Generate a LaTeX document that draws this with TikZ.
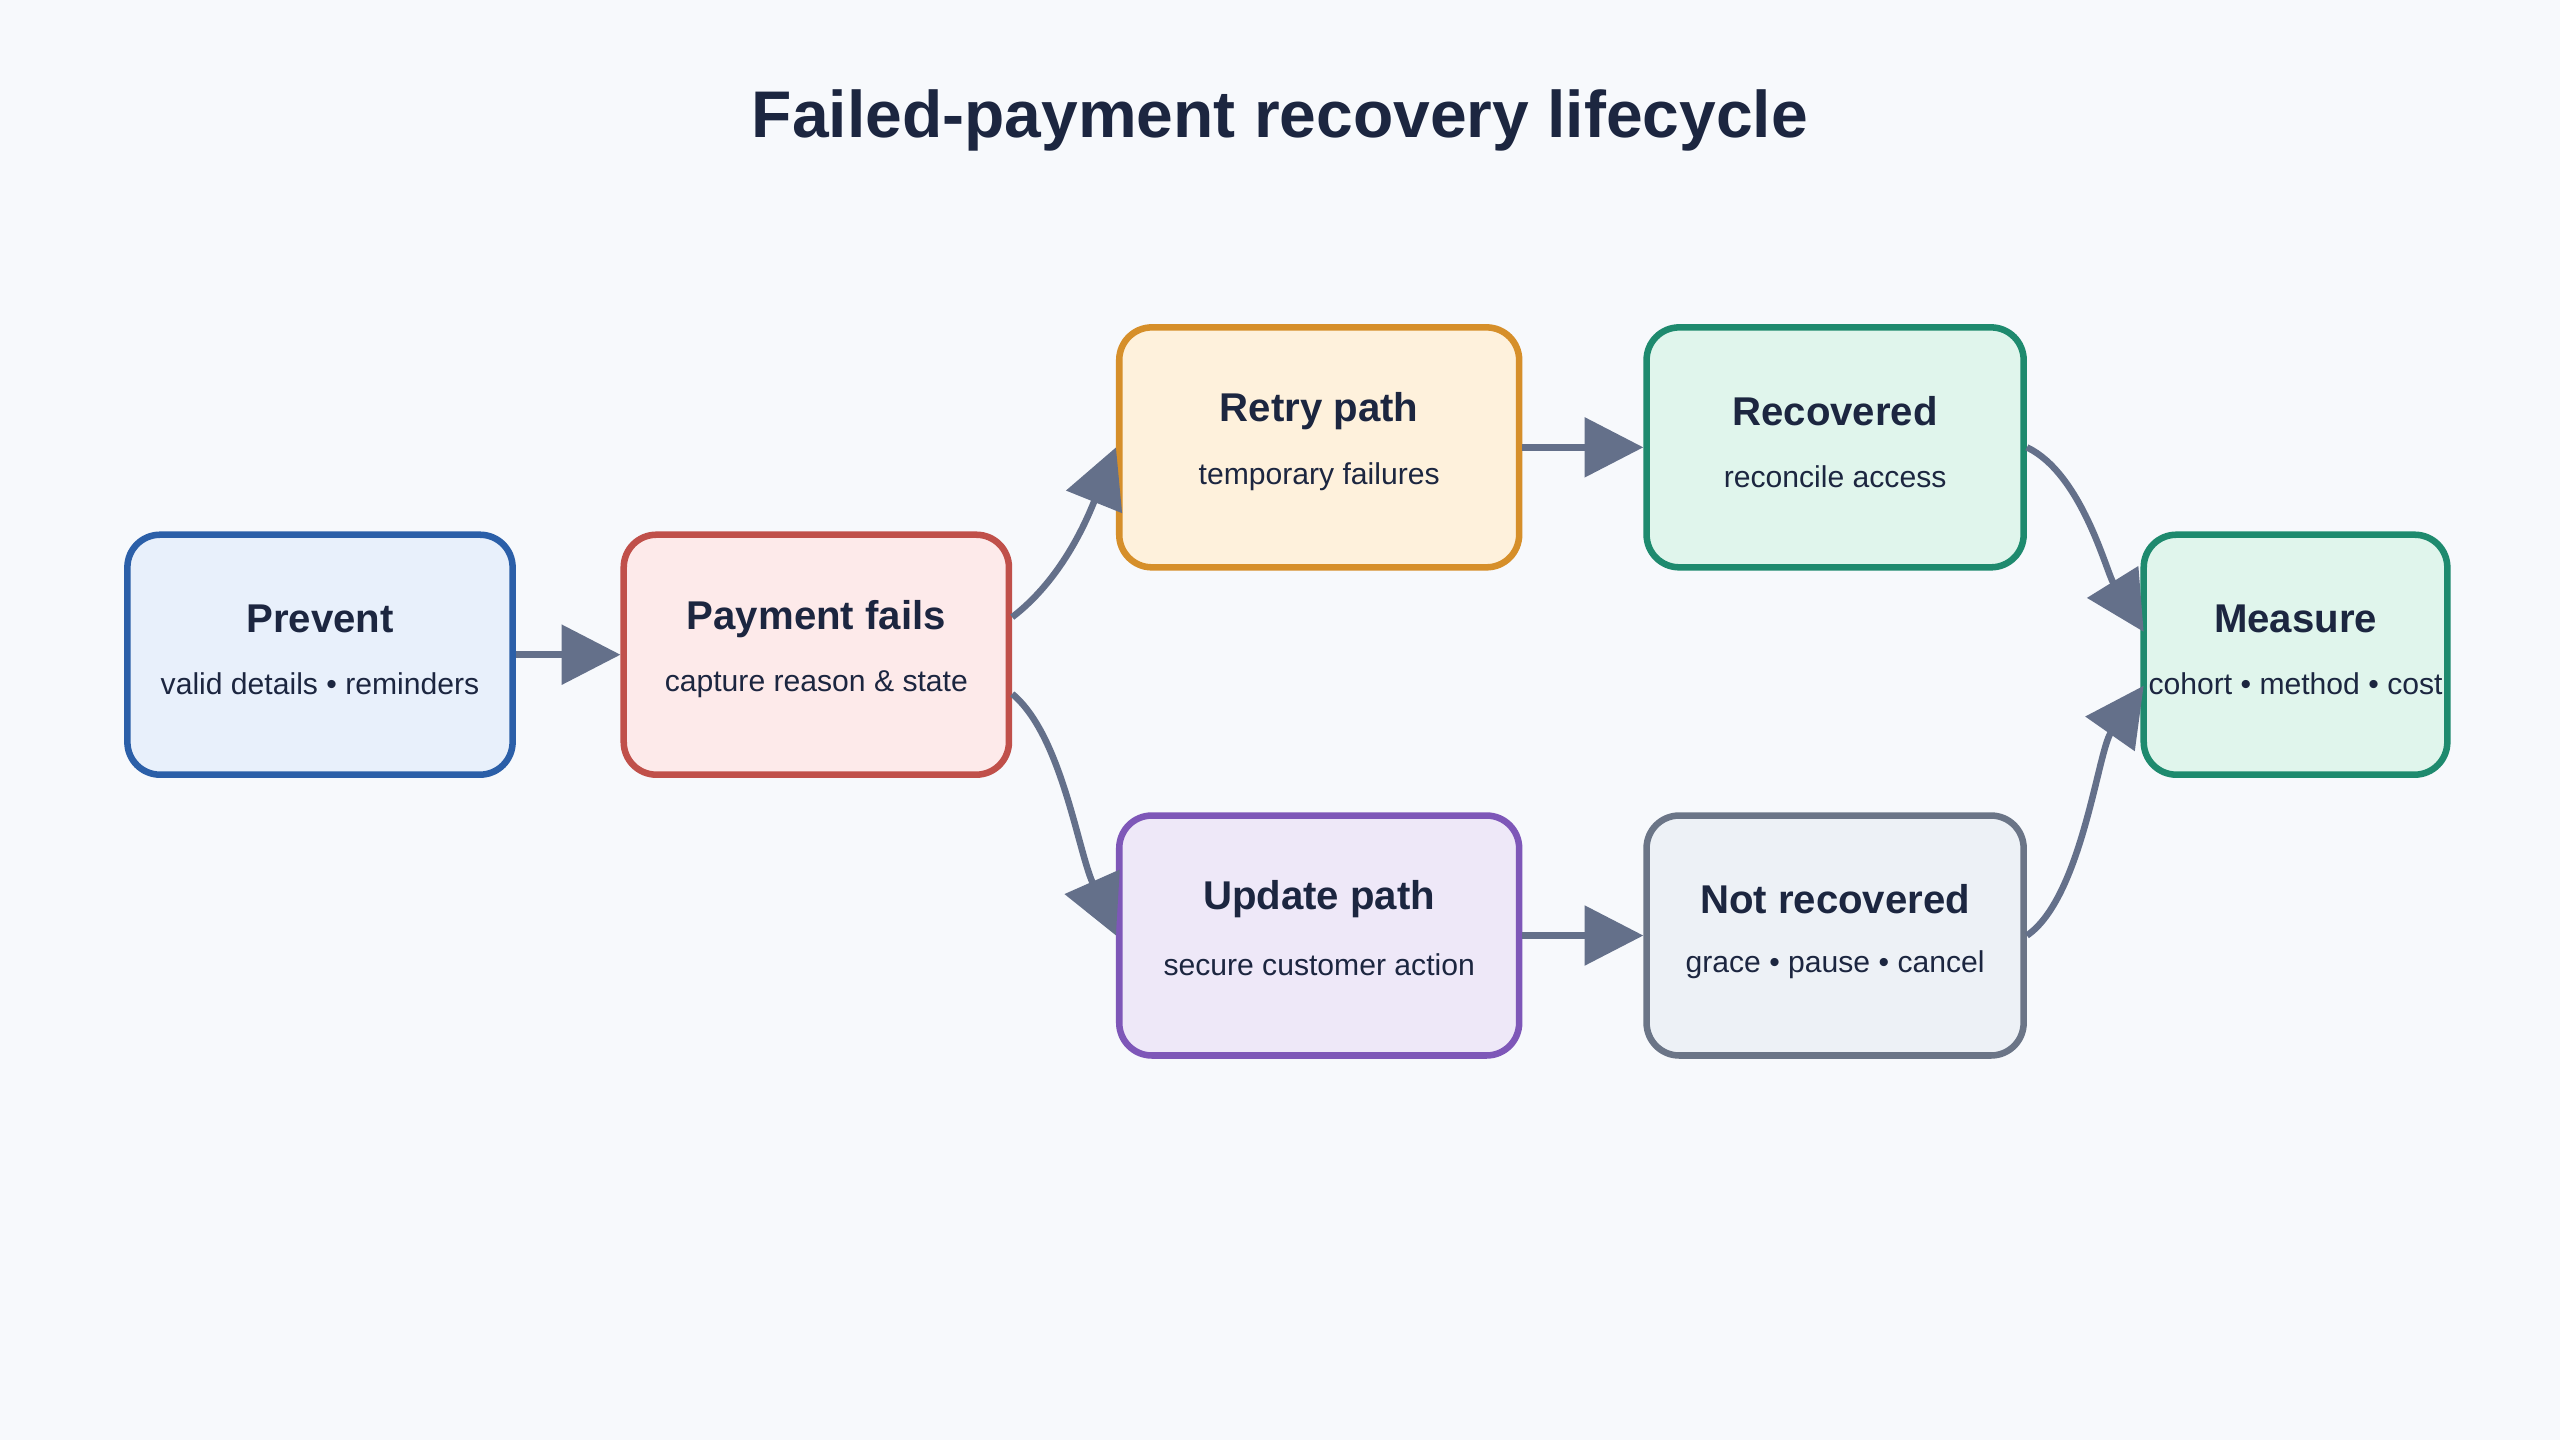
\documentclass[tikz,border=0pt]{standalone}
\usepackage{fontspec}
\setmainfont{Liberation Sans}
\usetikzlibrary{arrows.meta}
\definecolor{bg}{HTML}{F7F9FC}
\definecolor{ink}{HTML}{1C2640}
\definecolor{arr}{HTML}{64708A}
\definecolor{s1}{HTML}{2B5FA8}\definecolor{f1}{HTML}{E8F0FB}
\definecolor{s2}{HTML}{C0504A}\definecolor{f2}{HTML}{FDEAEA}
\definecolor{s3}{HTML}{D68F2A}\definecolor{f3}{HTML}{FEF1DC}
\definecolor{s4}{HTML}{1E8A6E}\definecolor{f4}{HTML}{E0F5EC}
\definecolor{s5}{HTML}{7E57B8}\definecolor{f5}{HTML}{EEE8F8}
\definecolor{s6}{HTML}{6B7587}\definecolor{f6}{HTML}{EDF1F6}
\tikzset{
  box/.style={draw, line width=0.08cm, rounded corners=0.4cm, minimum height=2.94cm, inner sep=0pt},
  ttl/.style={font=\bfseries\fontsize{14}{16}\selectfont, text=ink},
  sub/.style={font=\fontsize{10.5}{12}\selectfont, text=ink},
  con/.style={draw=arr, line width=0.08cm, -{Triangle[length=0.72cm,width=0.72cm]}}
}
\begin{document}
\begin{tikzpicture}[x=0.02cm,y=-0.02cm]
\fill[bg] (0,0) rectangle (1568,882);
\useasboundingbox (0,0) rectangle (1568,882);
\node[font=\bfseries\fontsize{23}{27}\selectfont, text=ink] (title) at (784,74) {Failed-payment recovery lifecycle};
\node[box, draw=s1, fill=f1, minimum width=4.72cm] (prev) at (196,401) {};
\node[box, draw=s2, fill=f2, minimum width=4.72cm] (pay) at (500,401) {};
\node[box, draw=s3, fill=f3, minimum width=4.9cm] (retry) at (808,274) {};
\node[box, draw=s4, fill=f4, minimum width=4.62cm] (rec) at (1124,274) {};
\node[box, draw=s5, fill=f5, minimum width=4.9cm] (upd) at (808,573) {};
\node[box, draw=s6, fill=f6, minimum width=4.62cm] (notrec) at (1124,573) {};
\node[box, draw=s4, fill=f4, minimum width=3.72cm] (meas) at (1406,401) {};
\foreach \n/\a/\b in {prev/Prevent/valid details • reminders, pay/Payment fails/capture reason \& state, retry/Retry path/temporary failures, rec/Recovered/reconcile access, upd/Update path/secure customer action, notrec/Not recovered/grace • pause • cancel, meas/Measure/cohort • method • cost}{
  \node[ttl] (\n-t) at ([yshift=0.44cm]\n.center) {\a};
  \node[sub] (\n-s) at ([yshift=-0.36cm]\n.center) {\b};
}
\draw[con] (prev.east) -- (pay.west);
\draw[con] (retry.east) -- (rec.west);
\draw[con] (upd.east) -- (notrec.west);
\draw[con] (pay.east |- 0,378) .. controls (650,355) and (665,320) .. (retry.west);
\draw[con] (pay.east |- 0,425) .. controls (650,450) and (660,520) .. (upd.west);
\draw[con] (rec.east) .. controls (1275,290) and (1290,350) .. (1313,387);
\draw[con] (notrec.east) .. controls (1275,550) and (1285,460) .. (1313,420);
\end{tikzpicture}
\end{document}
